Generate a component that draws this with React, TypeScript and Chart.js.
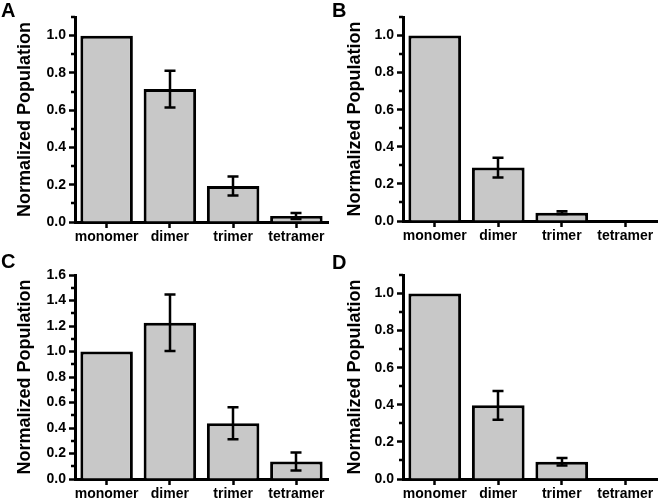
import React, { useEffect, useRef } from "react";
import { Chart, registerables } from "chart.js";

Chart.register(...registerables);

const categories = ["monomer", "dimer", "trimer", "tetramer"];
const yAxisTitle = "Normalized Population";

const valuesA = [1.0, 0.713, 0.193, 0.032];
const errorsA = [0, 0.099, 0.051, 0.016];
const valuesB = [1.0, 0.288, 0.045, 0];
const errorsB = [0, 0.053, 0.007, 0];
const valuesC = [1.0, 1.225, 0.437, 0.137];
const errorsC = [0, 0.222, 0.125, 0.07];
const valuesD = [1.0, 0.397, 0.093, 0];
const errorsD = [0, 0.078, 0.02, 0];

const yMaxAB = 1.1;
const yMaxC = 1.6;
const yMaxD = 1.1;
const yStep = 0.2;

const FONT = "'Liberation Sans', Arial, Helvetica, sans-serif";

type PanelProps = {
  letter: string;
  values: number[];
  errors: number[];
  yMax: number;
  left: number;
  top: number;
  width: number;
  height: number;
  area: { l: number; r: number; t: number; b: number };
  letterX: number;
  letterY: number;
};

function Panel(p: PanelProps) {
  const ref = useRef<HTMLCanvasElement | null>(null);
  useEffect(() => {
    if (!ref.current) return;
    const area = p.area;
    const decor = {
      id: "decor" + p.letter,
      afterDatasetsDraw(chart: any) {
        const ctx = chart.ctx;
        const ys = chart.scales.y;
        const meta = chart.getDatasetMeta(0);
        ctx.save();
        ctx.strokeStyle = "#000";
        ctx.lineWidth = 2.5;
        // error bars
        p.values.forEach((v, i) => {
          const e = p.errors[i];
          if (!e) return;
          const x = Math.round(meta.data[i].x);
          const y1 = ys.getPixelForValue(v + e);
          const y2 = ys.getPixelForValue(v - e);
          const cap = 5.5;
          ctx.beginPath();
          ctx.moveTo(x, y1);
          ctx.lineTo(x, y2);
          ctx.moveTo(x - cap, y1);
          ctx.lineTo(x + cap, y1);
          ctx.moveTo(x - cap, y2);
          ctx.lineTo(x + cap, y2);
          ctx.stroke();
        });
        // minor ticks
        ctx.lineWidth = 2.5;
        const left = chart.chartArea.left;
        for (let k = 1; k * 0.1 <= p.yMax + 1e-9; k += 2) {
          const y = Math.round(ys.getPixelForValue(k * 0.1));
          ctx.beginPath();
          ctx.moveTo(left - 4, y);
          ctx.lineTo(left, y);
          ctx.stroke();
        }
        ctx.restore();
      },
      afterDraw(chart: any) {
        const ctx = chart.ctx;
        ctx.save();
        ctx.fillStyle = "#000";
        ctx.font = `bold 20px ${FONT}`;
        ctx.textBaseline = "alphabetic";
        ctx.textAlign = "left";
        ctx.fillText(p.letter, p.letterX, p.letterY);
        ctx.restore();
      },
    };

    const chart = new Chart(ref.current, {
      type: "bar",
      data: {
        labels: categories,
        datasets: [
          {
            data: p.values,
            backgroundColor: "#c8c8c8",
            borderColor: "#000",
            borderWidth: (c: any) => (c.raw === 0 ? 0 : 3),
            borderSkipped: "start",
            barPercentage: 0.83,
            categoryPercentage: 1,
          },
        ],
      },
      options: {
        animation: false,
        responsive: false,
        maintainAspectRatio: false,
        devicePixelRatio: 1,
        layout: {
          padding: { left: 0, top: area.t, right: p.width - area.r, bottom: 0 },
        },
        plugins: {
          legend: { display: false },
          tooltip: { enabled: false },
        },
        scales: {
          x: {
            type: "category",
            offset: true,
            grid: {
              display: true,
              offset: false,
              drawOnChartArea: false,
              drawTicks: true,
              tickLength: 6,
              tickWidth: 2.5,
              tickColor: "#000",
            },
            border: { display: true, color: "#000", width: 3 },
            ticks: {
              color: "#000",
              font: { family: FONT, size: 14, weight: "bold" },
              padding: 1,
              autoSkip: false,
              maxRotation: 0,
              minRotation: 0,
            },
            afterFit: (s: any) => {
              s.height = p.height - area.b;
              s.paddingLeft = 0;
              s.paddingRight = 0;
            },
          },
          y: {
            type: "linear",
            min: 0,
            max: p.yMax,
            grid: {
              display: true,
              drawOnChartArea: false,
              drawTicks: true,
              tickLength: 6,
              tickWidth: 2.5,
              tickColor: "#000",
            },
            border: { display: true, color: "#000", width: 3 },
            ticks: {
              stepSize: yStep,
              includeBounds: false,
              color: "#000",
              font: { family: FONT, size: 14, weight: "bold" },
              padding: 3,
              callback: (v: any) => Number(v).toFixed(1),
            },
            title: {
              display: true,
              text: yAxisTitle,
              color: "#000",
              font: { family: FONT, size: 18, weight: "bold" },
              padding: { top: 14, bottom: 0 },
            },
            afterFit: (s: any) => {
              s.width = area.l;
              s.paddingTop = 0;
              s.paddingBottom = 0;
            },
          },
        },
      } as any,
      plugins: [decor],
    });
    return () => chart.destroy();
  }, []);

  return (
    <canvas
      ref={ref}
      width={p.width}
      height={p.height}
      style={{
        position: "absolute",
        left: p.left,
        top: p.top,
        width: p.width,
        height: p.height,
      }}
    />
  );
}

export default function App() {
  return (
    <div
      style={{
        position: "absolute",
        left: 0,
        top: 0,
        width: 660,
        height: 503,
        background: "#fff",
        overflow: "hidden",
      }}
    >
      <Panel
        letter="A"
        values={valuesA}
        errors={errorsA}
        yMax={yMaxAB}
        left={0}
        top={0}
        width={330}
        height={252}
        area={{ l: 75, r: 328, t: 17, b: 222 }}
        letterX={1}
        letterY={17}
      />
      <Panel
        letter="B"
        values={valuesB}
        errors={errorsB}
        yMax={yMaxAB}
        left={330}
        top={0}
        width={330}
        height={252}
        area={{ l: 73, r: 327, t: 17, b: 221 }}
        letterX={2}
        letterY={17}
      />
      <Panel
        letter="C"
        values={valuesC}
        errors={errorsC}
        yMax={yMaxC}
        left={0}
        top={252}
        width={330}
        height={251}
        area={{ l: 75, r: 328, t: 23, b: 227 }}
        letterX={1}
        letterY={16}
      />
      <Panel
        letter="D"
        values={valuesD}
        errors={errorsD}
        yMax={yMaxD}
        left={330}
        top={252}
        width={330}
        height={251}
        area={{ l: 73, r: 327, t: 23, b: 227 }}
        letterX={2}
        letterY={17}
      />
    </div>
  );
}
